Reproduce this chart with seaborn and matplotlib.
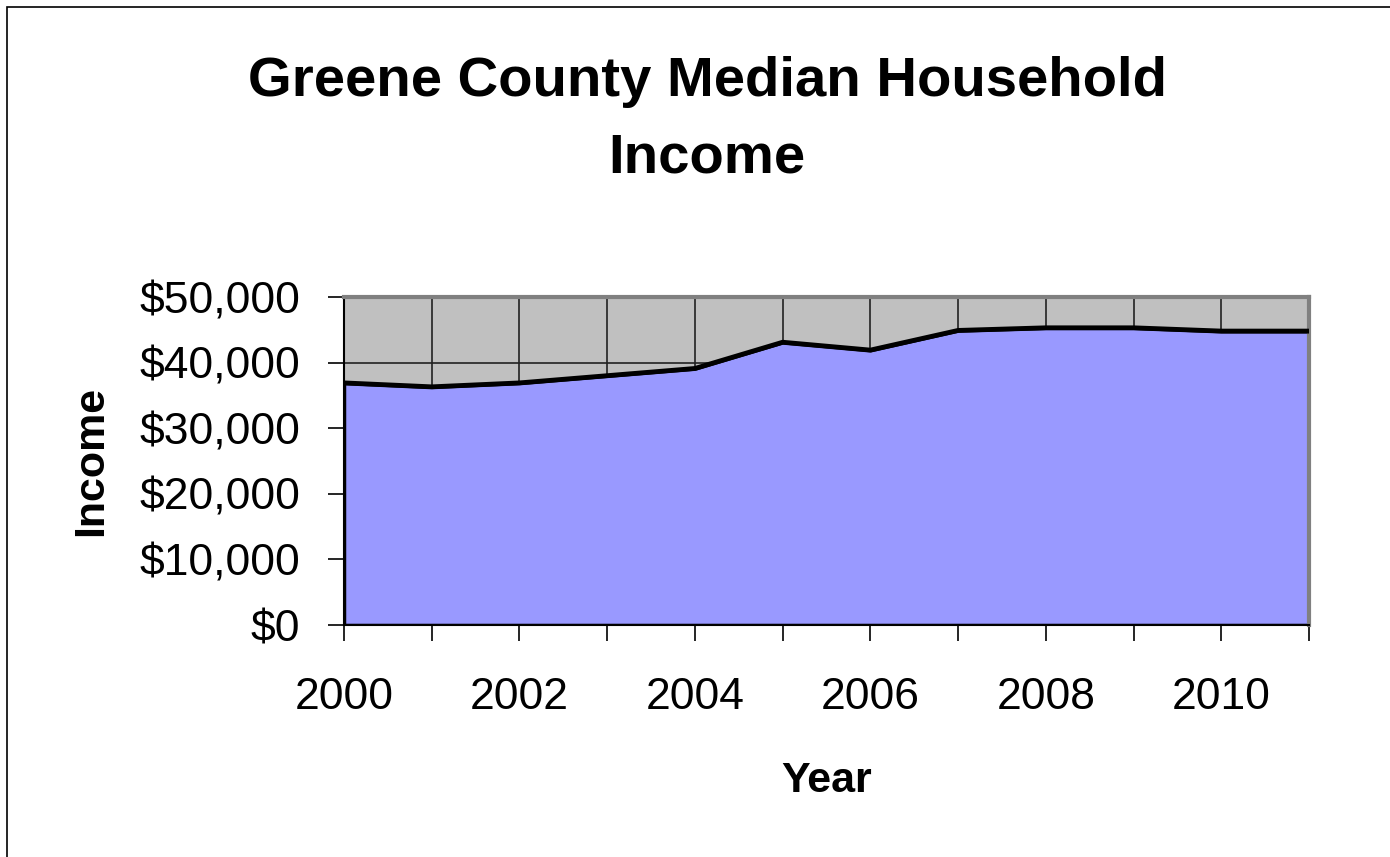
import numpy as np
import pandas as pd
import matplotlib
matplotlib.use("Agg")
import matplotlib.pyplot as plt
import seaborn as sns
from matplotlib.ticker import FuncFormatter, MultipleLocator
from matplotlib.patches import Rectangle

years = [2000, 2001, 2002, 2003, 2004, 2005, 2006, 2007, 2008, 2009, 2010, 2011]
income = [36900, 36300, 36900, 38000, 39100, 43100, 41900, 44900, 45300, 45300, 44800, 44800]
year_labels = [2000, 2002, 2004, 2006, 2008, 2010]

df = pd.DataFrame({"Year": years, "Income": income})

sns.set_style("white")
plt.rcParams["font.family"] = ["Liberation Sans", "DejaVu Sans"]
plt.rcParams["text.color"] = "black"
plt.rcParams["axes.labelcolor"] = "black"
plt.rcParams["xtick.color"] = "black"
plt.rcParams["ytick.color"] = "black"

fig = plt.figure(figsize=(13.9, 8.57), dpi=100)
ax = fig.add_axes([344 / 1390, 1 - 625 / 857, (1309 - 344) / 1390, (625 - 297) / 857])
ax.set_facecolor("#C0C0C0")

# gridlines under the area
for y in range(10000, 50001, 10000):
    ax.axhline(y, color="#222222", lw=1.2, zorder=1)
for x in years:
    ax.axvline(x, color="#222222", lw=1.2, zorder=1)

ax.fill_between(df["Year"], 0, df["Income"], facecolor="#9999FF",
                edgecolor="black", lw=2.5, zorder=2)
sns.lineplot(data=df, x="Year", y="Income", color="black", lw=3.5, ax=ax, zorder=3)

ax.set_xlim(2000, 2011)
ax.set_ylim(0, 50000)
ax.yaxis.set_major_locator(MultipleLocator(10000))
ax.yaxis.set_major_formatter(FuncFormatter(lambda v, p: "${:,.0f}".format(v)))
ax.set_xticks(years)
ax.set_xticklabels([str(y) if y in year_labels else "" for y in years])

ax.tick_params(axis="both", which="major", direction="out", length=11.5, width=1.2,
               color="black", labelcolor="black", labelsize=32, left=True, bottom=True)
ax.tick_params(axis="x", pad=26)
ax.tick_params(axis="y", pad=20)

for side in ["top", "right"]:
    ax.spines[side].set_color("#808080")
    ax.spines[side].set_linewidth(3)
for side in ["left", "bottom"]:
    ax.spines[side].set_color("black")
    ax.spines[side].set_linewidth(1.5)

ax.set_xlabel("Year", fontsize=31, fontweight="bold", labelpad=31)
ax.set_ylabel("Income", fontsize=31, fontweight="bold", labelpad=20)

fig.text(707 / 1390, 1 - 120 / 857, "Greene County Median Household\nIncome", ha="center", va="center",
         fontsize=40.5, fontweight="bold", linespacing=1.62, color="black")

# outer chart border
fig.patches.append(Rectangle((7 / 1390, -0.1), 1.2, 1 - 7 / 857 + 0.1, transform=fig.transFigure,
                             fill=False, edgecolor="black", lw=1.2))

fig.savefig("out.png", dpi=100)
